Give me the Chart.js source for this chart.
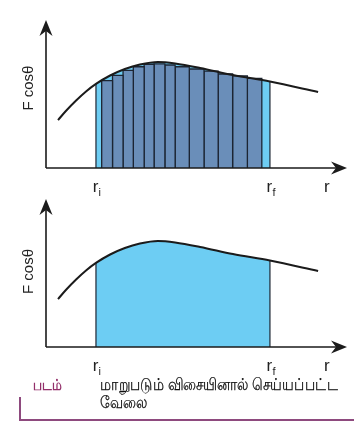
<!DOCTYPE html>
<html>
<head>
<meta charset="utf-8">
<script src="https://cdn.jsdelivr.net/npm/chart.js@4.4.1/dist/chart.umd.min.js"></script>
<style>
  html,body{margin:0;padding:0;background:#fff;}
  body{width:357px;height:428px;position:relative;overflow:hidden;font-family:"Liberation Sans",Arial,sans-serif;}
  canvas{position:absolute;left:0;}
  #c1{top:0;}
  #c2{top:179px;}
  .cap-tag{position:absolute;left:33px;top:376px;font-size:16px;font-weight:bold;color:#93306a;white-space:nowrap;transform-origin:0 0;}
  .cap-line{position:absolute;left:100px;font-size:17px;color:#111;white-space:nowrap;transform-origin:0 0;-webkit-text-stroke:0.25px #111;}
  #cap1{top:375px;}
  #cap2{top:393px;}
  .cap-frame{position:absolute;left:19px;top:397px;width:333px;height:22px;border-left:2px solid #8e4a7e;border-bottom:2px solid #8e4a7e;}
</style>
</head>
<body>
<canvas id="c1" width="357" height="200"></canvas>
<canvas id="c2" width="357" height="200"></canvas>
<div class="cap-tag" id="tag">படம்</div>
<div class="cap-line" id="cap1">மாறுபடும் விசையினால் செய்யப்பட்ட</div>
<div class="cap-line" id="cap2">வேலை</div>
<div class="cap-frame"></div>
<script>
// ---- data (arbitrary units) ----
const curveR = [0.40, 0.66, 1.00, 1.33, 1.66, 2.13, 2.62, 3.12, 3.72, 4.29, 5.12, 6.21, 7.44, 9.04];
const curveF = [3.24, 3.85, 4.56, 5.17, 5.68, 6.25, 6.69, 6.99, 7.16, 7.06, 6.76, 6.28, 5.84, 5.14];
const rI = 1.66;
const rF = 7.44;
const stripEdges = [1.85, 2.21, 2.56, 2.90, 3.26, 3.59, 3.95, 4.29, 4.76, 5.25, 5.72, 6.20, 6.69, 7.17];
const stripHeights = [5.90, 6.26, 6.60, 6.84, 7.01, 7.03, 6.96, 6.84, 6.69, 6.55, 6.35, 6.22, 6.06];
const axisMax = 10;
const yLabel = 'F cosθ';
const xLabels = [{base:'r', sub:'i', at:rI}, {base:'r', sub:'f', at:rF}, {base:'r', sub:'', at:9.35}];

const curvePts = curveR.map((r,i)=>({x:r,y:curveF[i]}));
const fI = curveF[curveR.indexOf(rI)];
const fF = curveF[curveR.indexOf(rF)];

const INK = '#1b1b1b';
const BAR_EDGE = '#1c2533';
const LIGHT = '#6dcdf3';

function baseDatasets(withStrips){
  const ds = [];
  ds.push({type:'line', data:curvePts, borderColor:INK, borderWidth:2, pointRadius:0,
           cubicInterpolationMode:'monotone', fill:false, order:0, clip:false});
  ds.push({type:'line', data:curvePts, borderWidth:0, borderColor:'rgba(0,0,0,0)', pointRadius:0,
           cubicInterpolationMode:'monotone', fill:'origin', backgroundColor:LIGHT, order:3,
           segment:{
             backgroundColor: c => (c.p0.parsed.x >= rI && c.p1.parsed.x <= rF) ? LIGHT : 'rgba(0,0,0,0)'
           }});
  if(withStrips){
    for(let i=0;i<stripHeights.length;i++){
      const x0=stripEdges[i], x1=stripEdges[i+1], h=stripHeights[i];
      ds.push({type:'line', data:[{x:x0,y:0},{x:x0,y:h},{x:x1,y:h},{x:x1,y:0}],
               borderColor:BAR_EDGE, borderWidth:1.3, pointRadius:0, tension:0,
               fill:'origin', backgroundColor:'#6a8eb9', order:2});
    }
  }
  ds.push({type:'line', data:[{x:rI,y:0},{x:rI,y:fI}], borderColor:BAR_EDGE, borderWidth:1.2, pointRadius:0, order:1});
  ds.push({type:'line', data:[{x:rF,y:0},{x:rF,y:fF}], borderColor:BAR_EDGE, borderWidth:1.2, pointRadius:0, order:1});
  return ds;
}

function arrowHead(ctx, tipX, tipY, dir){
  const L=16, W=6.5, N=11;
  ctx.beginPath();
  if(dir==='right'){
    ctx.moveTo(tipX, tipY);
    ctx.lineTo(tipX-L, tipY-W);
    ctx.lineTo(tipX-N, tipY);
    ctx.lineTo(tipX-L, tipY+W);
  } else {
    ctx.moveTo(tipX, tipY);
    ctx.lineTo(tipX-W, tipY+L);
    ctx.lineTo(tipX, tipY+N);
    ctx.lineTo(tipX+W, tipY+L);
  }
  ctx.closePath();
  ctx.fill();
}

const axesPlugin = {
  id:'axesArrows',
  afterDatasetsDraw(chart){
    const ctx = chart.ctx, xs = chart.scales.x, ys = chart.scales.y;
    const ox = xs.getPixelForValue(0), oy = ys.getPixelForValue(0);
    const tx = xs.getPixelForValue(axisMax), ty = ys.getPixelForValue(axisMax);
    ctx.save();
    ctx.strokeStyle = INK; ctx.fillStyle = INK; ctx.lineWidth = 1.6;
    ctx.beginPath();
    ctx.moveTo(ox, oy); ctx.lineTo(tx-10, oy);
    ctx.moveTo(ox, oy); ctx.lineTo(ox, ty+10);
    ctx.stroke();
    arrowHead(ctx, tx, oy, 'right');
    arrowHead(ctx, ox, ty, 'up');
    ctx.fillStyle = '#222';
    xLabels.forEach(l=>{
      const px = xs.getPixelForValue(l.at);
      ctx.font = '17px "Liberation Sans", Arial, sans-serif';
      ctx.textAlign = 'center'; ctx.textBaseline = 'alphabetic';
      ctx.fillText(l.base, px-0.5, oy+24);
      if(l.sub){
        ctx.font = '11px "Liberation Sans", Arial, sans-serif';
        ctx.textAlign = 'left';
        ctx.fillText(l.sub, px+2.5, oy+28);
      }
    });
    ctx.save();
    ctx.translate(ox-17, ys.getPixelForValue(chart.options.plugins.axesArrows.labelAt));
    ctx.rotate(-Math.PI/2);
    ctx.font = '15px "Liberation Sans", Arial, sans-serif';
    ctx.textAlign = 'center'; ctx.textBaseline = 'middle';
    ctx.fillText(yLabel, 0, 0);
    ctx.restore();
    ctx.restore();
  }
};

function makeChart(id, withStrips, labelAt){
  return new Chart(document.getElementById(id), {
    type:'line',
    data:{datasets: baseDatasets(withStrips)},
    options:{
      responsive:false, animation:false, devicePixelRatio:1,
      layout:{padding:{left:46, right:10, top:20, bottom:32}},
      plugins:{legend:{display:false}, tooltip:{enabled:false}, axesArrows:{labelAt:labelAt}},
      scales:{
        x:{type:'linear', min:0, max:axisMax, display:false},
        y:{type:'linear', min:0, max:axisMax, display:false}
      }
    },
    plugins:[axesPlugin]
  });
}
makeChart('c1', true, 5.4);
makeChart('c2', false, 5.1);

// fit caption widths to the figure
function fitWidth(id, target){
  const el = document.getElementById(id);
  const w = el.getBoundingClientRect().width;
  el.style.transform = 'scaleX(' + (target / w) + ')';
  return target / w;
}
const s = fitWidth('cap1', 238);
document.getElementById('cap2').style.transform = 'scaleX(' + s + ')';
fitWidth('tag', 29);
</script>
</body>
</html>
